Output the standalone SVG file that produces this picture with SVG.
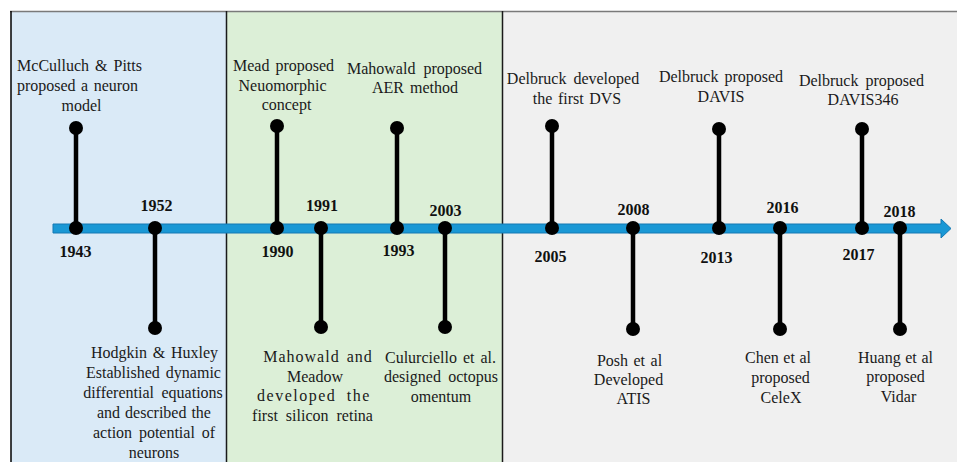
<svg xmlns="http://www.w3.org/2000/svg" width="957" height="462" viewBox="0 0 957 462">
<style>
text{font-family:"Liberation Serif","Times New Roman",serif;font-size:16px;fill:#1a1a1a;text-anchor:middle}
.yr{font-weight:bold;fill:#111}
.stem{stroke:#000;stroke-width:4.5;fill:none}
.dot{fill:#000}
</style>
<g id="panels">
<rect x="11" y="11" width="215" height="451" fill="#DAEAF7"/>
<rect x="226" y="11" width="276" height="451" fill="#DCEFD7"/>
<rect x="502" y="11" width="455" height="451" fill="#F0F0F0"/>
<line x1="10" y1="11.5" x2="957" y2="11.5" stroke="#7a7a7a" stroke-width="1.5"/>
<line x1="11" y1="11" x2="11" y2="462" stroke="#000" stroke-width="1.5"/>
<line x1="226.5" y1="11" x2="226.5" y2="462" stroke="#1a1a1a" stroke-width="1.5"/>
<line x1="502.5" y1="11" x2="502.5" y2="462" stroke="#1a1a1a" stroke-width="1.5"/>
</g>
<g id="connectors">
<path id="axis" d="M53,224 H941 V219 L951,228.5 L941,238 V233 H53 Z" fill="#1A98D5" stroke="#1478B3" stroke-width="1"/>
<line class="stem" x1="76" y1="128" x2="76" y2="228"/>
<line class="stem" x1="155" y1="228" x2="155" y2="328"/>
<line class="stem" x1="277" y1="126" x2="277" y2="228"/>
<line class="stem" x1="321" y1="228" x2="321" y2="327"/>
<line class="stem" x1="397" y1="128" x2="397" y2="228"/>
<line class="stem" x1="445" y1="228" x2="445" y2="327"/>
<line class="stem" x1="552" y1="126" x2="552" y2="228"/>
<line class="stem" x1="633" y1="228" x2="633" y2="329"/>
<line class="stem" x1="719" y1="129" x2="719" y2="228"/>
<line class="stem" x1="780" y1="228" x2="780" y2="329"/>
<line class="stem" x1="862" y1="129" x2="862" y2="228"/>
<line class="stem" x1="900" y1="228" x2="900" y2="329"/>
</g>
<g id="e1943">
<circle class="dot" cx="76" cy="228" r="7"/><circle class="dot" cx="76" cy="128" r="7"/>
<text class="yr" x="75.5" y="257">1943</text>
<text x="79.5" y="71" word-spacing="2">McCulluch &amp; Pitts</text>
<text x="77.5" y="91" word-spacing="1.5">proposed a neuron</text>
<text x="81.5" y="111">model</text>
</g>
<g id="e1952">
<circle class="dot" cx="155" cy="228" r="7"/><circle class="dot" cx="155" cy="328" r="7"/>
<text class="yr" x="156.5" y="211">1952</text>
<text x="154.5" y="358" word-spacing="1.75">Hodgkin &amp; Huxley</text>
<text x="153.5" y="378" word-spacing="2">Established dynamic</text>
<text x="153" y="398" word-spacing="3.6">differential equations</text>
<text x="154" y="418" word-spacing="1">and described the</text>
<text x="154" y="438" word-spacing="2.8">action potential of</text>
<text x="154" y="458">neurons</text>
</g>
<g id="e1990">
<circle class="dot" cx="277" cy="228" r="7"/><circle class="dot" cx="277" cy="126" r="7"/>
<text class="yr" x="277.5" y="257">1990</text>
<text x="283.5" y="71" word-spacing="2">Mead proposed</text>
<text x="282.5" y="91">Neuomorphic</text>
<text x="286.5" y="110">concept</text>
</g>
<g id="e1991">
<circle class="dot" cx="321" cy="228" r="7"/><circle class="dot" cx="321" cy="327" r="7"/>
<text class="yr" x="322" y="211">1991</text>
<text x="318" y="362" word-spacing="2" letter-spacing="1">Mahowald and</text>
<text x="315" y="382">Meadow</text>
<text x="314" y="401" word-spacing="5" letter-spacing="1.5">developed the</text>
<text x="312.5" y="421" word-spacing="4">first silicon retina</text>
</g>
<g id="e1993">
<circle class="dot" cx="397" cy="228" r="7"/><circle class="dot" cx="397" cy="128" r="7"/>
<text class="yr" x="398.5" y="256">1993</text>
<text x="414.5" y="74" word-spacing="4">Mahowald proposed</text>
<text x="415" y="93" word-spacing="2">AER method</text>
</g>
<g id="e2003">
<circle class="dot" cx="445" cy="228" r="7"/><circle class="dot" cx="445" cy="327" r="7"/>
<text class="yr" x="445.5" y="216">2003</text>
<text x="440.5" y="363" word-spacing="2">Culurciello et al.</text>
<text x="441" y="382" word-spacing="3.3">designed octopus</text>
<text x="441" y="402">omentum</text>
</g>
<g id="e2005">
<circle class="dot" cx="552" cy="228" r="7"/><circle class="dot" cx="552" cy="126" r="7"/>
<text class="yr" x="550.5" y="262">2005</text>
<text x="573" y="84" word-spacing="3">Delbruck developed</text>
<text x="577" y="104" word-spacing="1.5">the first DVS</text>
</g>
<g id="e2008">
<circle class="dot" cx="633" cy="228" r="7"/><circle class="dot" cx="633" cy="329" r="7"/>
<text class="yr" x="633.5" y="215">2008</text>
<text x="629.5" y="366" word-spacing="1.5">Posh et al</text>
<text x="628.5" y="385">Developed</text>
<text x="633.5" y="404">ATIS</text>
</g>
<g id="e2013">
<circle class="dot" cx="719" cy="228" r="7"/><circle class="dot" cx="719" cy="129" r="7"/>
<text class="yr" x="716.5" y="263">2013</text>
<text x="721" y="82" word-spacing="2">Delbruck proposed</text>
<text x="721" y="102">DAVIS</text>
</g>
<g id="e2016">
<circle class="dot" cx="780" cy="228" r="7"/><circle class="dot" cx="780" cy="329" r="7"/>
<text class="yr" x="782.5" y="213">2016</text>
<text x="778" y="363" word-spacing="0.5">Chen et al</text>
<text x="780.5" y="383">proposed</text>
<text x="781" y="403">CeleX</text>
</g>
<g id="e2017">
<circle class="dot" cx="862" cy="228" r="7"/><circle class="dot" cx="862" cy="129" r="7"/>
<text class="yr" x="858.5" y="260">2017</text>
<text x="861.5" y="86" word-spacing="3">Delbruck proposed</text>
<text x="863" y="105">DAVIS346</text>
</g>
<g id="e2018">
<circle class="dot" cx="900" cy="228" r="7"/><circle class="dot" cx="900" cy="329" r="7"/>
<text class="yr" x="899.5" y="217">2018</text>
<text x="895.5" y="363" word-spacing="0.6">Huang et al</text>
<text x="895.5" y="382">proposed</text>
<text x="898.5" y="402">Vidar</text>
</g>
</svg>
